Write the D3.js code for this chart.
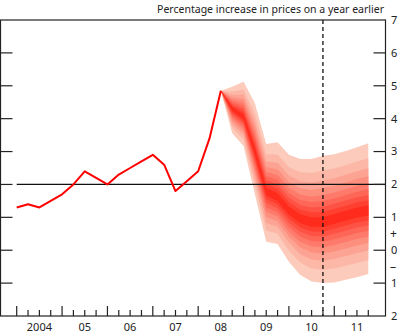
<!DOCTYPE html>
<meta charset="utf-8">
<html>
<style>
    body { margin: 0; background: #fff; }
    text { font-family: "Noto Sans", sans-serif; fill: #222; }
</style>
<div id="chartContainer"></div>
<script src="https://cdn.jsdelivr.net/npm/d3@7"></script>
<script type="text/javascript">
    // CPI inflation, quarterly from 2004 Q1
    var cpiOutturn = [1.3, 1.4, 1.3, 1.5, 1.7, 2.0, 2.4, 2.2, 2.0, 2.3, 2.5, 2.7, 2.9, 2.6, 1.8, 2.1, 2.4, 3.4, 4.85];

    // projection from 2008 Q3 (index 18) to 2011 Q4 (index 31)
    var fanStart = 18;
    var fanCentre = [4.85, 4.3, 4.05, 3.0, 1.8, 1.6, 1.2, 0.95, 0.85, 0.85, 0.95, 1.05, 1.15, 1.2];
    var fanUpper = [4.85, 4.97, 5.12, 4.47, 3.23, 3.28, 2.9, 2.77, 2.77, 2.87, 2.92, 3.02, 3.13, 3.25];
    var fanLower = [4.85, 3.56, 3.17, 1.7, 0.26, 0.19, -0.35, -0.75, -0.95, -1.0, -0.98, -0.9, -0.82, -0.72];

    // share of the 90% spread reached by each band edge (10%, 20% ... 90% bands)
    var bandEdges = [0.077, 0.154, 0.234, 0.319, 0.41, 0.512, 0.63, 0.78, 1.0];

    var yearLabels = ["2004", "05", "06", "07", "08", "09", "10", "11"];
    var yTicks = [7, 6, 5, 4, 3, 2, 1, 0, -1, -2];
    var yTickText = ["7", "6", "5", "4", "3", "2", "1", "0", "1", "2"];
    var target = 2;
    var horizonQuarter = 27;
    var title = "Percentage increase in prices on a year earlier";

    var width = 400, height = 335;
    var plotLeft = 0.5, plotRight = 385.5, plotTop = 20, plotBottom = 316;

    var svg = d3.select("#chartContainer").append("svg")
        .attr("width", width)
        .attr("height", height);

    var x = d3.scaleLinear().domain([0, 31]).range([16.7, 368.3]);
    var y = d3.scaleLinear().domain([-2, 7]).range([plotBottom, plotTop]);

    // fan bands, widest first so the darker ones sit on top
    var light = "#fccbbb", dark = "#ff2b1c";
    var shade = d3.interpolateRgb(light, dark);
    var fan = fanCentre.map(function (c, i) {
        return { q: fanStart + i, c: c, up: fanUpper[i] - c, down: c - fanLower[i] };
    });
    bandEdges.slice().reverse().forEach(function (f, j) {
        var area = d3.area()
            .x(function (d) { return x(d.q); })
            .y0(function (d) { return y(d.c - f * d.down); })
            .y1(function (d) { return y(d.c + f * d.up); });
        svg.append("path")
            .datum(fan)
            .attr("d", area)
            .attr("fill", shade(j / (bandEdges.length - 1)));
    });

    // target line
    svg.append("line")
        .attr("x1", x(0)).attr("x2", plotRight)
        .attr("y1", y(target)).attr("y2", y(target))
        .attr("stroke", "#111").attr("stroke-width", 1.2);

    // outturn
    var line = d3.line()
        .x(function (d, i) { return x(i); })
        .y(function (d) { return y(d); });
    svg.append("path")
        .datum(cpiOutturn)
        .attr("d", line)
        .attr("fill", "none")
        .attr("stroke", "#ff0000")
        .attr("stroke-width", 2)
        .attr("stroke-linejoin", "round");

    // two-year horizon
    svg.append("line")
        .attr("x1", x(horizonQuarter)).attr("x2", x(horizonQuarter))
        .attr("y1", plotTop).attr("y2", plotBottom)
        .attr("stroke", "#111").attr("stroke-width", 1.3)
        .attr("stroke-dasharray", "4,3");

    // frame
    svg.append("rect")
        .attr("x", plotLeft).attr("y", plotTop)
        .attr("width", plotRight - plotLeft).attr("height", plotBottom - plotTop)
        .attr("fill", "none").attr("stroke", "#222").attr("stroke-width", 1.2);

    // y ticks on both sides
    var inner = yTicks.slice(1, -1);
    svg.selectAll("line.ytl").data(inner).enter().append("line")
        .attr("x1", plotLeft).attr("x2", plotLeft + 12)
        .attr("y1", function (d) { return y(d); })
        .attr("y2", function (d) { return y(d); })
        .attr("stroke", "#222").attr("stroke-width", 1.2);
    svg.selectAll("line.ytr").data(inner).enter().append("line")
        .attr("x1", plotRight - 12).attr("x2", plotRight)
        .attr("y1", function (d) { return y(d); })
        .attr("y2", function (d) { return y(d); })
        .attr("stroke", "#222").attr("stroke-width", 1.2);

    svg.selectAll("text.ylab").data(yTicks).enter().append("text")
        .attr("x", 391)
        .attr("y", function (d) { return y(d); })
        .attr("dy", "0.35em")
        .style("font-size", "11px")
        .text(function (d, i) { return yTickText[i]; });

    // sign markers either side of zero
    svg.append("text").attr("x", 390).attr("y", y(0.5)).attr("dy", "0.35em")
        .style("font-size", "12px").text("+");
    svg.append("text").attr("x", 390).attr("y", y(-0.5)).attr("dy", "0.35em")
        .style("font-size", "12px").text("–");

    // quarterly ticks, longer at the start of each year
    svg.selectAll("line.xt").data(d3.range(0, 32)).enter().append("line")
        .attr("x1", function (d) { return x(d); })
        .attr("x2", function (d) { return x(d); })
        .attr("y1", function (d) { return d % 4 === 0 ? plotBottom - 10 : plotBottom - 6; })
        .attr("y2", plotBottom)
        .attr("stroke", "#222").attr("stroke-width", 1.2);

    svg.selectAll("text.xlab").data(yearLabels).enter().append("text")
        .attr("x", function (d, i) { return x(i * 4 + 2); })
        .attr("y", 331)
        .attr("text-anchor", "middle")
        .style("font-size", "11px")
        .text(function (d) { return d; });

    svg.append("text")
        .attr("x", 384).attr("y", 13)
        .attr("text-anchor", "end")
        .style("font-size", "10.5px")
        .text(title);
</script>
</html>
